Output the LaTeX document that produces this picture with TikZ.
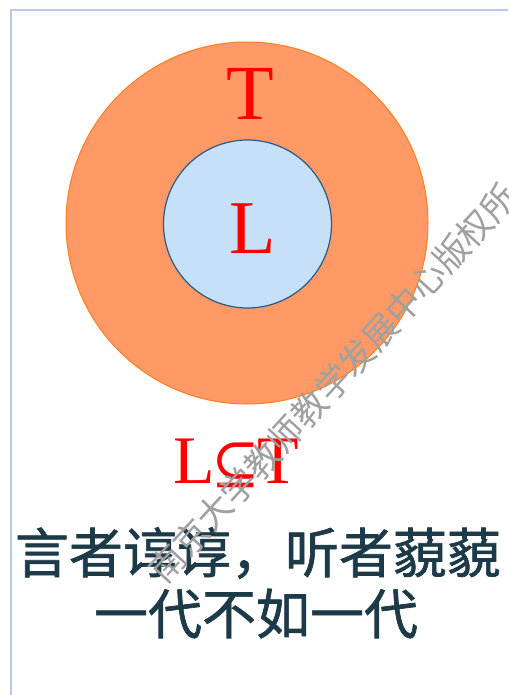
\documentclass[tikz,border=0pt]{standalone}
\usepackage{fontspec}
\setmainfont{Liberation Serif}
\newfontfamily\cjk{Noto Sans CJK SC}[FakeBold=1.2]
\newfontfamily\wmfont{Noto Sans CJK SC}
\newfontfamily\symfont{DejaVu Serif}
\definecolor{outerfill}{HTML}{FF9966}
\definecolor{outerline}{HTML}{FF7F1F}
\definecolor{innerfill}{HTML}{C6E0F8}
\definecolor{innerline}{HTML}{2B5A8A}
\definecolor{framec}{HTML}{B8C8E8}
\definecolor{cjktext}{HTML}{1C3A48}
\definecolor{wmark}{HTML}{A0A0A0}
\tikzset{
  redlabel/.style={text=red, inner sep=0pt, anchor=base},
  cjkline/.style={text=cjktext, inner sep=0pt, anchor=base, font=\cjk\fontsize{54}{60}\selectfont},
}
\begin{document}
\begin{tikzpicture}[x=1pt,y=-1pt]
\useasboundingbox (0,0) rectangle (508,695);
\fill[white] (0,0) rectangle (508,695);
% frame
\draw[framec, line width=2.5pt] (11,695) -- (11,10) -- (508,10);
% circles
\node[circle, minimum size=362pt, inner sep=0pt, fill=outerfill, draw=outerline, line width=1pt] (outer) at (247,223) {};
\node[circle, minimum size=168pt, inner sep=0pt, fill=innerfill, draw=innerline, line width=1.2pt] (inner) at (247.5,224) {};
% labels
\node[redlabel, font=\fontsize{78}{80}\selectfont] (T) at (250,120) {T};
\node[redlabel, font=\fontsize{76}{80}\selectfont] (L) at (253,253) {L};
\node[redlabel, font=\fontsize{68}{70}\selectfont] (LT) at (236,483) {L\kern-3pt{\symfont\fontsize{58}{60}\selectfont ⊆}\kern-3pt T};
% chinese text
\node[cjkline] (line1) at (258,573) {言者谆谆，听者藐藐};
\node[cjkline] (line2) at (256,634) {一代不如一代};
% watermark
\node[text=wmark, inner sep=0pt, rotate=47.5, font=\wmfont\fontsize{35}{38}\selectfont] (wm) at (333,383) {南京大学教师教学发展中心版权所};
\end{tikzpicture}
\end{document}
